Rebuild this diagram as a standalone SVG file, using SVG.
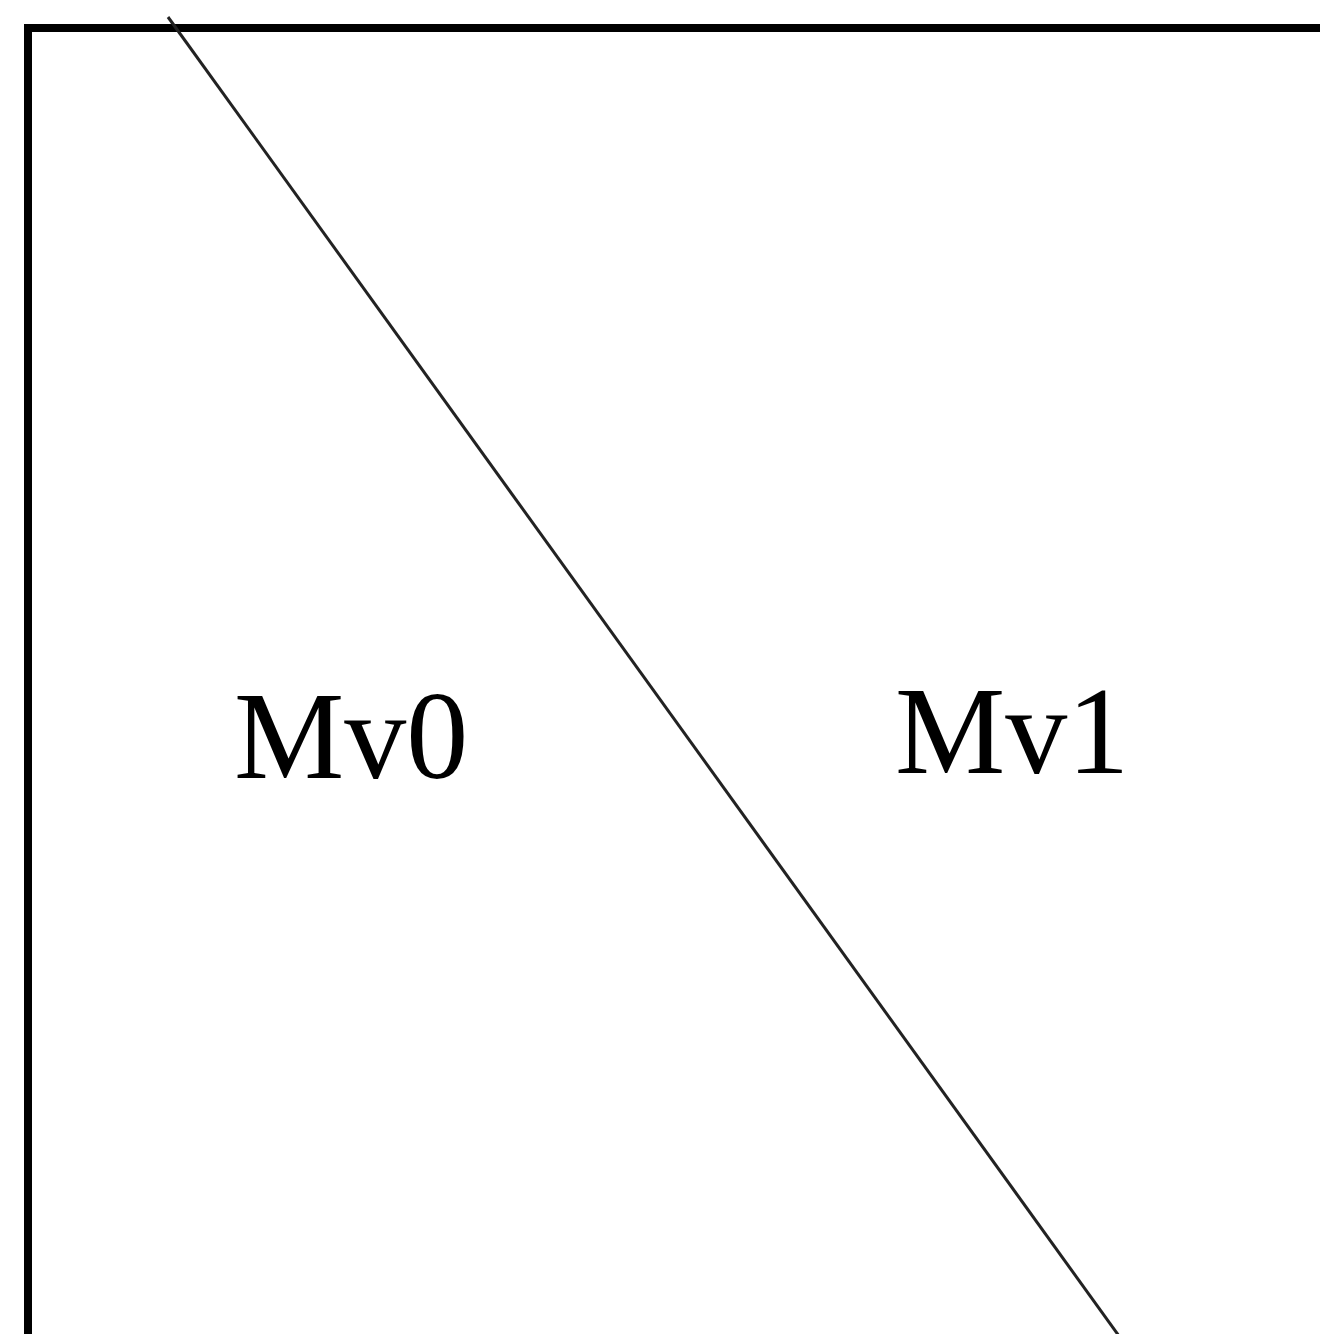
<svg xmlns="http://www.w3.org/2000/svg" width="1320" height="1334" viewBox="0 0 1320 1334">
  <style>
    .frame { fill: none; stroke: #000; stroke-width: 8; }
    .split { stroke: #222; stroke-width: 3; }
    .label { font-family: "Liberation Serif", "Times New Roman", serif; font-size: 124px; fill: #000; }
  </style>
  <rect width="1320" height="1334" fill="#fff"/>
  <!-- outer block boundary, running off the right and bottom edges -->
  <g id="block">
    <path class="frame" d="M28 1340 V28 H1330"/>
  </g>
  <!-- diagonal partition line -->
  <g id="connectors">
    <line class="split" x1="168" y1="17" x2="1119" y2="1336"/>
  </g>
  <g id="mv0">
    <text class="label" x="234" y="778">Mv0</text>
  </g>
  <g id="mv1">
    <text class="label" x="895" y="773">Mv1</text>
  </g>
</svg>
